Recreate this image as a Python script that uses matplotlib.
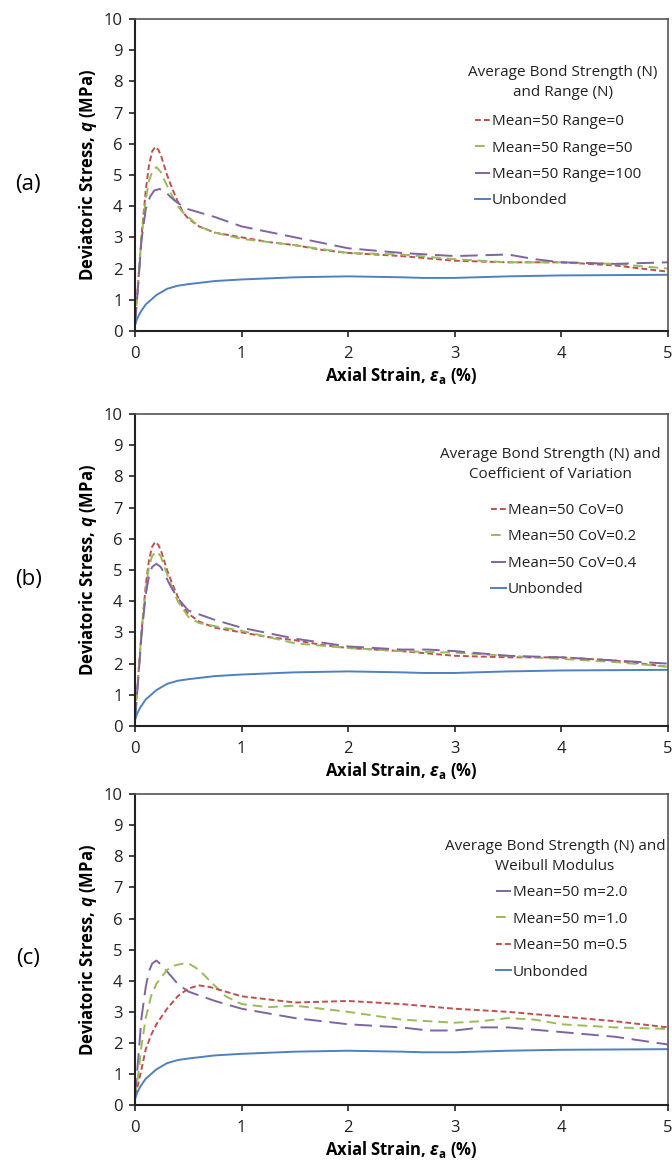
import matplotlib
matplotlib.use("Agg")
import matplotlib.pyplot as plt

plt.rcParams['font.family'] = ['Open Sans', 'DejaVu Sans']
plt.rcParams['mathtext.fontset'] = 'custom'
plt.rcParams['mathtext.it'] = 'Open Sans:italic:bold'
plt.rcParams['mathtext.rm'] = 'Open Sans:bold'

# Unbonded curve (same in all panels)
unb_x = [0, 0.02, 0.05, 0.1, 0.15, 0.2, 0.3, 0.4, 0.5, 0.75, 1.0, 1.5, 2.0, 2.5, 2.7, 3.0, 3.5, 4.0, 4.5, 5.0]
unb_y = [0.2, 0.4, 0.6, 0.85, 1.0, 1.15, 1.35, 1.45, 1.5, 1.6, 1.65, 1.72, 1.75, 1.72, 1.7, 1.7, 1.75, 1.78, 1.79, 1.8]

# (a) range
a_red_x = [0, 0.03, 0.06, 0.1, 0.13, 0.16, 0.19, 0.22, 0.25, 0.3, 0.35, 0.4, 0.45, 0.5, 0.6, 0.75, 1.0, 1.25, 1.5, 1.75, 2.0, 2.5, 3.0, 3.5, 4.0, 4.5, 5.0]
a_red_y = [0.3, 1.6, 3.0, 4.5, 5.3, 5.75, 5.9, 5.8, 5.55, 5.0, 4.55, 4.15, 3.8, 3.6, 3.35, 3.15, 3.0, 2.85, 2.75, 2.6, 2.5, 2.4, 2.25, 2.2, 2.2, 2.1, 1.9]
a_grn_x = [0, 0.03, 0.06, 0.1, 0.13, 0.16, 0.2, 0.24, 0.28, 0.33, 0.4, 0.45, 0.5, 0.6, 0.75, 1.0, 1.25, 1.5, 2.0, 2.5, 3.0, 3.5, 4.0, 4.5, 5.0]
a_grn_y = [0.3, 1.6, 3.0, 4.2, 4.8, 5.1, 5.25, 5.1, 4.8, 4.45, 4.0, 3.8, 3.65, 3.35, 3.15, 2.95, 2.85, 2.75, 2.5, 2.45, 2.3, 2.2, 2.2, 2.15, 2.0]
a_pur_x = [0, 0.03, 0.06, 0.1, 0.14, 0.18, 0.23, 0.28, 0.33, 0.4, 0.5, 0.75, 1.0, 1.5, 2.0, 2.5, 3.0, 3.5, 3.75, 4.0, 4.5, 5.0]
a_pur_y = [0.2, 1.5, 2.9, 3.9, 4.3, 4.5, 4.55, 4.48, 4.3, 4.1, 3.9, 3.65, 3.35, 3.0, 2.65, 2.5, 2.4, 2.45, 2.3, 2.2, 2.15, 2.2]

# (b) coefficient of variation
b_grn_x = [0, 0.03, 0.06, 0.1, 0.13, 0.16, 0.2, 0.24, 0.28, 0.33, 0.4, 0.5, 0.6, 0.75, 1.0, 1.5, 2.0, 2.5, 3.0, 3.5, 4.0, 4.5, 5.0]
b_grn_y = [0.3, 1.6, 3.0, 4.4, 5.1, 5.45, 5.6, 5.45, 5.05, 4.6, 4.0, 3.5, 3.3, 3.2, 3.05, 2.65, 2.5, 2.4, 2.35, 2.25, 2.15, 2.05, 1.9]
b_pur_x = [0, 0.03, 0.06, 0.1, 0.13, 0.16, 0.2, 0.24, 0.28, 0.33, 0.4, 0.5, 0.75, 1.0, 1.5, 2.0, 2.5, 2.75, 3.0, 3.5, 4.0, 4.5, 5.0]
b_pur_y = [0.2, 1.5, 2.9, 4.2, 4.8, 5.1, 5.2, 5.1, 4.85, 4.5, 4.1, 3.7, 3.4, 3.15, 2.8, 2.55, 2.45, 2.45, 2.4, 2.25, 2.2, 2.1, 2.0]

# (c) Weibull modulus
c_pur_x = [0, 0.03, 0.06, 0.1, 0.13, 0.16, 0.2, 0.25, 0.3, 0.4, 0.5, 0.75, 1.0, 1.5, 2.0, 2.5, 2.75, 3.0, 3.25, 3.5, 4.0, 4.5, 5.0]
c_pur_y = [0.3, 1.5, 2.8, 3.8, 4.3, 4.55, 4.65, 4.5, 4.3, 3.9, 3.65, 3.35, 3.1, 2.8, 2.6, 2.5, 2.4, 2.4, 2.5, 2.5, 2.35, 2.2, 1.95]
c_grn_x = [0, 0.03, 0.06, 0.1, 0.15, 0.2, 0.3, 0.38, 0.45, 0.52, 0.6, 0.7, 0.85, 1.0, 1.25, 1.5, 2.0, 2.5, 3.0, 3.25, 3.5, 3.75, 4.0, 4.5, 5.0]
c_grn_y = [0.3, 1.0, 1.9, 2.8, 3.5, 3.9, 4.35, 4.5, 4.55, 4.52, 4.35, 4.0, 3.5, 3.25, 3.15, 3.2, 3.0, 2.75, 2.65, 2.7, 2.8, 2.75, 2.6, 2.5, 2.45]
c_red_x = [0, 0.03, 0.06, 0.1, 0.15, 0.2, 0.3, 0.4, 0.5, 0.6, 0.7, 0.85, 1.0, 1.5, 2.0, 2.5, 3.0, 3.5, 4.0, 4.5, 5.0]
c_red_y = [0.3, 0.7, 1.15, 1.8, 2.25, 2.6, 3.1, 3.5, 3.75, 3.85, 3.8, 3.65, 3.5, 3.3, 3.35, 3.25, 3.1, 3.0, 2.85, 2.7, 2.5]

RED = '#C0504D'
GRN = '#9BBB59'
PUR = '#8064A2'
BLU = '#4F81BD'

red_dash = (0, (3, 1.6))
grn_dash = (0, (5, 3))
pur_dash = (0, (9, 4))

panels = [
    ("(a)", "Average Bond Strength (N)\nand Range (N)",
     [(a_red_x, a_red_y, RED, red_dash, "Mean=50 Range=0"),
      (a_grn_x, a_grn_y, GRN, grn_dash, "Mean=50 Range=50"),
      (a_pur_x, a_pur_y, PUR, pur_dash, "Mean=50 Range=100")]),
    ("(b)", "Average Bond Strength (N) and\nCoefficient of Variation",
     [(a_red_x, a_red_y, RED, red_dash, "Mean=50 CoV=0"),
      (b_grn_x, b_grn_y, GRN, grn_dash, "Mean=50 CoV=0.2"),
      (b_pur_x, b_pur_y, PUR, pur_dash, "Mean=50 CoV=0.4")]),
    ("(c)", "Average Bond Strength (N) and\nWeibull Modulus",
     [(c_pur_x, c_pur_y, PUR, pur_dash, "Mean=50 m=2.0"),
      (c_grn_x, c_grn_y, GRN, grn_dash, "Mean=50 m=1.0"),
      (c_red_x, c_red_y, RED, red_dash, "Mean=50 m=0.5")]),
]

fig = plt.figure(figsize=(6.72, 11.67), dpi=100)
bottoms = [0.7164, 0.3779, 0.0530]
heights = [0.2674, 0.2673, 0.2665]
# legend title centre (x, y) and legend upper-left anchor, axes fraction
title_pos = [(0.803, 0.795), (0.780, 0.837), (0.788, 0.801)]
leg_pos = [(0.638, 0.695), (0.668, 0.715), (0.677, 0.707)]

for (tag, title, series), b, h, tp, lp in zip(panels, bottoms, heights, title_pos, leg_pos):
    ax = fig.add_axes([0.201, b, 0.793, h])
    for xs, ys, c, ls, lab in series:
        ax.plot(xs, ys, color=c, linestyle=ls, linewidth=1.4, label=lab)
    ax.plot(unb_x, unb_y, color=BLU, linewidth=1.4, label="Unbonded")

    ax.set_xlim(0, 5)
    ax.set_ylim(0, 10)
    ax.set_xticks(range(0, 6))
    ax.set_yticks(range(0, 11))
    ax.tick_params(direction='out', length=4, width=1.2, labelsize=12,
                   colors='#222222')
    ax.tick_params(axis='x', pad=7)
    ax.tick_params(axis='y', pad=5)
    for s in ['left', 'bottom']:
        ax.spines[s].set_color('#222222')
        ax.spines[s].set_linewidth(1.5)
    for s in ['top', 'right']:
        ax.spines[s].set_color('#555555')
        ax.spines[s].set_linewidth(1.2)

    ax.set_xlabel(r"Axial Strain, $\varepsilon_{\mathrm{a}}$ (%)", fontsize=12,
                  fontweight='bold', labelpad=2)
    ax.set_ylabel(r"Deviatoric Stress, $q$ (MPa)", fontsize=12,
                  fontweight='bold', labelpad=3)

    ax.text(tp[0], tp[1], title, transform=ax.transAxes, fontsize=11,
            ha='center', va='center', multialignment='center',
            linespacing=1.45, color='#222222')
    leg = ax.legend(loc='upper left', bbox_to_anchor=lp,
                    frameon=False, fontsize=11,
                    handlelength=1.0, handletextpad=0.1, labelspacing=0.75,
                    borderaxespad=0, borderpad=0)
    for t in leg.get_texts():
        t.set_color('#222222')

    fig.text(0.042, b + h * 0.47, tag, fontsize=16, ha='center', va='center')

fig.savefig("out.png", dpi=100, facecolor='white')
